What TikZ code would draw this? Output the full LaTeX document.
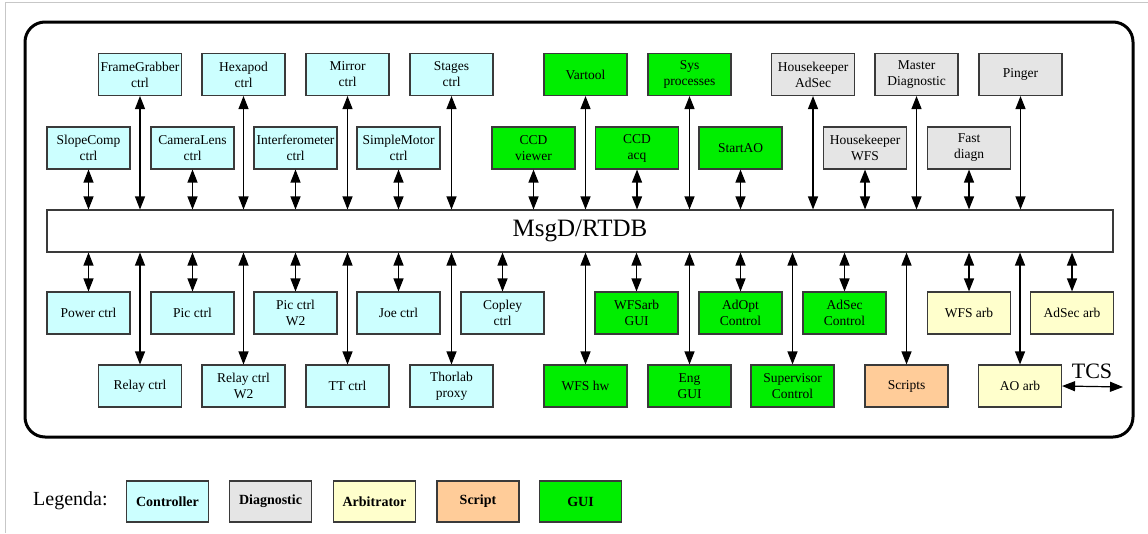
\documentclass[tikz,border=0pt]{standalone}
\usepackage{fontspec}
\setmainfont{Liberation Serif}
\usetikzlibrary{arrows.meta}

\definecolor{ctrlfill}{HTML}{CCFFFF}
\definecolor{diagfill}{HTML}{E5E5E5}
\definecolor{arbfill}{HTML}{FFFFCC}
\definecolor{scriptfill}{HTML}{FFCC99}
\definecolor{guifill}{HTML}{00EE00}
\definecolor{boxline}{HTML}{3A3A3A}

\begin{document}
\begin{tikzpicture}[x=1pt,y=-1pt,
  proc/.style={draw=boxline, line width=1.1pt, minimum width=83pt, minimum height=42pt,
    inner sep=0pt, align=center, font=\fontsize{13.5}{16}\selectfont},
  ctrl/.style={proc, fill=ctrlfill},
  diag/.style={proc, fill=diagfill},
  arb/.style={proc, fill=arbfill},
  scr/.style={proc, fill=scriptfill},
  gui/.style={proc, fill=guifill},
  legbox/.style={draw=boxline, line width=1.1pt, minimum width=82pt, minimum height=41pt,
    inner sep=0pt, font=\fontsize{14}{16}\selectfont\bfseries},
  link/.style={line width=1.2pt,
    arrows={Triangle[length=13pt,width=10pt]-Triangle[length=13pt,width=10pt]}},
]
\useasboundingbox (0,0) rectangle (1148,533);

% page edge
\draw[black!22, line width=1pt] (5,533) -- (5,2.5) -- (1148,2.5);

% system frame
\draw[line width=3pt, rounded corners=20pt] (25,22) rectangle (1133,437);

% message bus
\node[draw=boxline, line width=1.1pt, fill=white, minimum width=1066pt, minimum height=42pt,
  inner sep=0pt, font=\fontsize{25}{28}\selectfont] (bus) at (580,231) {MsgD/RTDB};

% upper tier, far row
\node[ctrl] (fg)    at (140,74.5)    {FrameGrabber\\ctrl};
\node[ctrl] (hex)   at (243.5,74.5)  {Hexapod\\ctrl};
\node[ctrl] (mir)   at (347.5,74.5)  {Mirror\\ctrl};
\node[ctrl] (stg)   at (451.5,74.5)  {Stages\\ctrl};
\node[gui]  (vart)  at (585.5,74.5)  {Vartool};
\node[gui]  (sys)   at (689.5,74.5)  {Sys\\processes};
\node[diag] (hka)   at (813,74.5)    {Housekeeper\\AdSec};
\node[diag] (mdiag) at (916.5,74.5)  {Master\\Diagnostic};
\node[diag] (ping)  at (1020.5,74.5) {Pinger};

% upper tier, near row
\node[ctrl] (slope) at (88.5,148)  {SlopeComp\\ctrl};
\node[ctrl] (cam)   at (192.5,148) {CameraLens\\ctrl};
\node[ctrl] (intf)  at (295.5,148) {Interferometer\\ctrl};
\node[ctrl] (smot)  at (398.5,148) {SimpleMotor\\ctrl};
\node[gui]  (ccdv)  at (533.5,148) {CCD\\viewer};
\node[gui]  (ccda)  at (637,148)   {CCD\\acq};
\node[gui]  (start) at (740.5,148) {StartAO};
\node[diag] (hkw)   at (865,148)   {Housekeeper\\WFS};
\node[diag] (fast)  at (969,148)   {Fast\\diagn};

% lower tier, near row
\node[ctrl] (pow)    at (88.5,313)  {Power ctrl};
\node[ctrl] (pic)    at (192.5,313) {Pic ctrl};
\node[ctrl] (picw)   at (295.5,313) {Pic ctrl\\W2};
\node[ctrl] (joe)    at (398.5,313) {Joe ctrl};
\node[ctrl] (cop)    at (502.5,313) {Copley\\ctrl};
\node[gui]  (wfsg)   at (636.5,313) {WFSarb\\GUI};
\node[gui]  (adopt)  at (740.5,313) {AdOpt\\Control};
\node[gui]  (asc)    at (844.5,313) {AdSec\\Control};
\node[arb]  (wfsarb) at (969,313)   {WFS arb};
\node[arb]  (asarb)  at (1072,313)  {AdSec arb};

% lower tier, far row
\node[ctrl] (relay)  at (140,386)   {Relay ctrl};
\node[ctrl] (relayw) at (243.5,386) {Relay ctrl\\W2};
\node[ctrl] (tt)     at (347.5,386) {TT ctrl};
\node[ctrl] (thor)   at (451.5,386) {Thorlab\\proxy};
\node[gui]  (wfshw)  at (585.5,386) {WFS hw};
\node[gui]  (eng)    at (689.5,386) {Eng\\GUI};
\node[gui]  (sup)    at (792.5,386) {Supervisor\\Control};
\node[scr]  (scripts) at (906.5,386) {Scripts};
\node[arb]  (aoarb)  at (1020,386)  {AO arb};

% links to the bus
\foreach \n in {fg,hex,mir,stg,vart,sys,hka,mdiag,ping,slope,cam,intf,smot,ccdv,ccda,start,hkw,fast}
  \draw[link] (\n.south) -- (\n.south |- bus.north);
\foreach \n in {pow,pic,picw,joe,cop,wfsg,adopt,asc,wfsarb,asarb,relay,relayw,tt,thor,wfshw,eng,sup,scripts,aoarb}
  \draw[link] (\n.north) -- (\n.north |- bus.south);

% external telescope control link
\coordinate (tcsend) at (1123,387);
\draw[link] (aoarb.east) -- (tcsend);
\node[font=\fontsize{22}{24}\selectfont, inner sep=0pt] (tcs) at (1092,371) {TCS};

% legend
\node[font=\fontsize{20}{22}\selectfont, inner sep=0pt, anchor=west] (leg) at (33,501) {Legenda:};
\node[legbox, fill=ctrlfill]   (lc) at (167.5,501.5) {Controller};
\node[legbox, fill=diagfill]   (ld) at (270.5,501.5) {Diagnostic};
\node[legbox, fill=arbfill]    (la) at (374.5,501.5) {Arbitrator};
\node[legbox, fill=scriptfill] (ls) at (478,501.5)   {Script};
\node[legbox, fill=guifill]    (lg) at (580.5,501.5) {GUI};
\end{tikzpicture}
\end{document}
